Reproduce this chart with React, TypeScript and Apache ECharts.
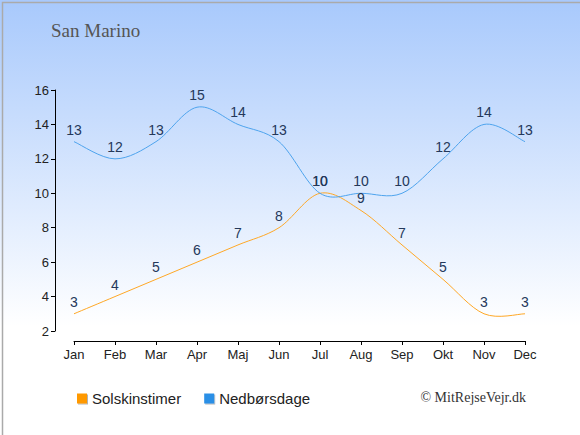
import React, { useEffect, useRef } from "react";
import * as echarts from "echarts";

const months = ["Jan", "Feb", "Mar", "Apr", "Maj", "Jun", "Jul", "Aug", "Sep", "Okt", "Nov", "Dec"];
const sunHours = [3, 4, 5, 6, 7, 8, 10, 9, 7, 5, 3, 3];
const rainDays = [13, 12, 13, 15, 14, 13, 10, 10, 10, 12, 14, 13];
const titleText = "San Marino";
const copyrightText = "© MitRejseVejr.dk";

function curveSeries(name: string, values: number[], stroke: string) {
  return {
    name,
    type: "custom",
    data: values.map((v, i) => [i, v]),
    silent: true,
    z: 1,
    renderItem: (params: any, api: any) => {
      const i = params.dataIndex;
      const n = values.length;
      if (i >= n - 1) return null;
      const pt = (j: number) => {
        const k = Math.max(0, Math.min(n - 1, j));
        return api.coord([k, values[k]]);
      };
      const p0 = pt(i - 1);
      const p1 = pt(i);
      const p2 = pt(i + 1);
      const p3 = pt(i + 2);
      return {
        type: "bezierCurve",
        shape: {
          x1: p1[0],
          y1: p1[1],
          x2: p2[0],
          y2: p2[1],
          cpx1: p1[0] + (p2[0] - p0[0]) / 6,
          cpy1: p1[1] + (p2[1] - p0[1]) / 6,
          cpx2: p2[0] - (p3[0] - p1[0]) / 6,
          cpy2: p2[1] - (p3[1] - p1[1]) / 6,
        },
        style: { stroke, fill: "none", lineWidth: 1 },
      };
    },
  };
}

export default function App() {
  const ref = useRef<HTMLDivElement>(null);
  useEffect(() => {
    document.body.style.margin = "0";
    const chart = echarts.init(ref.current!, null, { renderer: "svg" });
    const labelStyle = {
      show: true,
      position: "top" as const,
      distance: 5,
      color: "#24385a",
      fontSize: 14,
      fontFamily: "Liberation Sans, Arial, sans-serif",
    };
    chart.setOption({
      animation: false,
      backgroundColor: {
        type: "linear",
        x: 0,
        y: 0,
        x2: 0,
        y2: 1,
        colorStops: [
          { offset: 0, color: "#a8c9fc" },
          { offset: 0.75, color: "#ffffff" },
          { offset: 1, color: "#ffffff" },
        ],
      },
      title: {
        text: titleText,
        left: 51,
        top: 21,
        padding: 0,
        textStyle: {
          fontFamily: "Liberation Serif, serif",
          fontSize: 19,
          fontWeight: "normal",
          color: "#555555",
        },
      },
      legend: {
        left: 77,
        top: 391,
        padding: 0,
        itemWidth: 10,
        itemHeight: 10,
        itemGap: 23,
        icon: "rect",
        textStyle: {
          fontFamily: "Liberation Sans, Arial, sans-serif",
          fontSize: 15,
          color: "#222222",
        },
        data: [
          { name: "Solskinstimer", itemStyle: { color: "#ff9900", shadowColor: "rgba(0,0,0,0.3)", shadowOffsetX: 1, shadowOffsetY: 1 } },
          { name: "Nedbørsdage", itemStyle: { color: "#2b8fe6", shadowColor: "rgba(0,0,0,0.3)", shadowOffsetX: 1, shadowOffsetY: 1 } },
        ],
      },
      grid: { left: 74, right: 55, top: 90, bottom: 104 },
      xAxis: {
        type: "category",
        data: months,
        boundaryGap: false,
        offset: 10,
        axisLine: { lineStyle: { color: "#000000", width: 1 } },
        axisTick: { length: 4, lineStyle: { color: "#000000" } },
        axisLabel: {
          color: "#222222",
          fontSize: 13,
          margin: 7,
          fontFamily: "Liberation Sans, Arial, sans-serif",
        },
        splitLine: { show: false },
      },
      yAxis: {
        type: "value",
        min: 2,
        max: 16,
        interval: 2,
        offset: 19,
        axisLine: { show: true, lineStyle: { color: "#000000", width: 1 } },
        axisTick: { show: true, length: 4, lineStyle: { color: "#000000" } },
        axisLabel: {
          color: "#222222",
          fontSize: 13,
          margin: 6,
          fontFamily: "Liberation Sans, Arial, sans-serif",
        },
        splitLine: { show: false },
      },
      series: [
        curveSeries("sunCurve", sunHours, "#ffa826"),
        curveSeries("rainCurve", rainDays, "#4ea4ee"),
        {
          name: "Solskinstimer",
          type: "line",
          data: sunHours,
          symbol: "circle",
          symbolSize: 0.01,
          color: "#ff9900",
          lineStyle: { opacity: 0, width: 0 },
          label: labelStyle,
          z: 3,
        },
        {
          name: "Nedbørsdage",
          type: "line",
          data: rainDays,
          symbol: "circle",
          symbolSize: 0.01,
          color: "#2b8fe6",
          lineStyle: { opacity: 0, width: 0 },
          label: labelStyle,
          z: 3,
        },
      ],
      graphic: [
        {
          type: "text",
          right: 54,
          top: 390,
          style: {
            text: copyrightText,
            fontFamily: "Liberation Serif, serif",
            fontSize: 14,
            fill: "#333333",
          },
        },
        {
          type: "rect",
          left: 0,
          top: 0,
          shape: { x: 0.5, y: 0.5, width: 579, height: 434 },
          style: { fill: "none", stroke: "#aaaaaa", lineWidth: 1.5 },
          silent: true,
        },
      ],
    });
    return () => chart.dispose();
  }, []);
  return <div ref={ref} style={{ width: 580, height: 435 }} />;
}
